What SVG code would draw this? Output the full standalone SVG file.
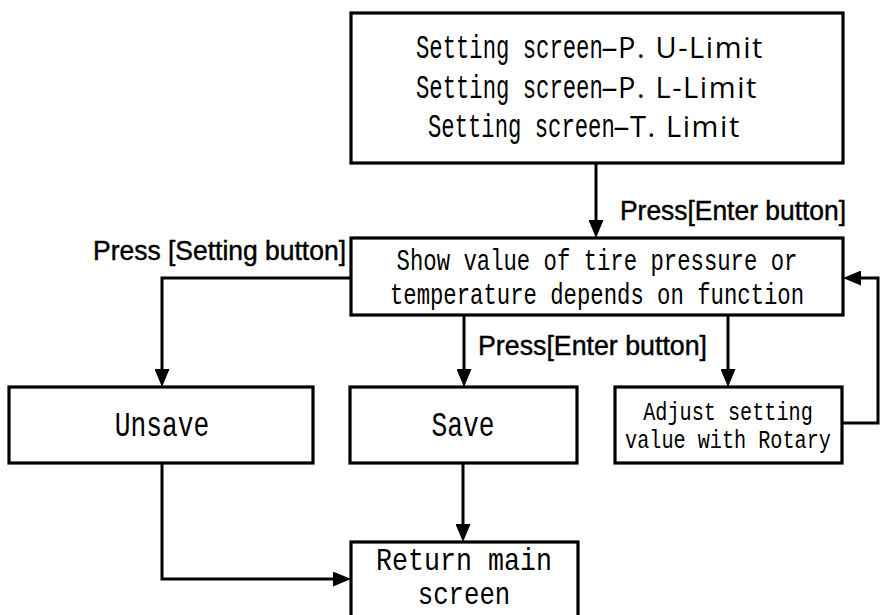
<svg xmlns="http://www.w3.org/2000/svg" width="880" height="615" viewBox="0 0 880 615">
<defs>
<style>
.box{fill:#fff;stroke:#000;stroke-width:3.2}
.ln{fill:none;stroke:#000;stroke-width:3;marker-end:url(#ah)}
.ln2{fill:none;stroke:#000;stroke-width:3}
.serif{font-family:"Liberation Mono","DejaVu Sans Mono",monospace;fill:#000}
.sans{font-family:"Open Sans","Liberation Sans",sans-serif;font-size:29px;letter-spacing:1.6px;fill:#000}
.lbl{font-family:"Liberation Sans",Arial,sans-serif;font-size:27px;fill:#000;stroke:#000;stroke-width:0.45}
</style>
<marker id="ah" viewBox="0 0 18 15" refX="12" refY="7.5" markerWidth="18" markerHeight="15" orient="auto" markerUnits="userSpaceOnUse">
<path d="M0,0 L18,7.5 L0,15 z" fill="#000"/>
</marker>
</defs>
<rect width="880" height="615" fill="#fff"/>

<g id="connectors">
<path class="ln" d="M596,163 V232"/>
<path class="ln2" d="M351,278 H162 V360"/>
<path class="ln" d="M162,360 V381"/>
<path class="ln" d="M464,315 V381"/>
<path class="ln" d="M728,315 V381"/>
<path class="ln2" d="M842,423 H878 V278 H870"/>
<path class="ln" d="M870,278 H849"/>
<path class="ln2" d="M162,463 V579 H320"/>
<path class="ln" d="M320,579 H345"/>
<path class="ln" d="M463,463 V536"/>
</g>

<g id="node-setting-screen">
<rect class="box" x="351" y="13" width="492" height="150"/>
<text class="serif" font-size="34" transform="translate(416,58) scale(0.654,1)">Setting screen—</text>
<text class="sans" x="618" y="58">P. U-Limit</text>
<text class="serif" font-size="34" transform="translate(416,98) scale(0.654,1)">Setting screen—</text>
<text class="sans" x="618" y="98">P. L-Limit</text>
<text class="serif" font-size="34" transform="translate(428,137) scale(0.654,1)">Setting screen—</text>
<text class="sans" x="630" y="137">T. Limit</text>
</g>

<g id="node-show-value">
<rect class="box" x="351" y="238" width="492" height="77"/>
<text class="serif" font-size="29" text-anchor="middle" transform="translate(597,270) scale(0.768,1)">Show value of tire pressure or</text>
<text class="serif" font-size="29" text-anchor="middle" transform="translate(597,304) scale(0.768,1)">temperature depends on function</text>
</g>

<g id="node-unsave">
<rect class="box" x="9" y="387" width="304" height="76"/>
<text class="serif" font-size="35" text-anchor="middle" transform="translate(162,436) scale(0.75,1)">Unsave</text>
</g>

<g id="node-save">
<rect class="box" x="350" y="387" width="227" height="76"/>
<text class="serif" font-size="35" text-anchor="middle" transform="translate(463,436) scale(0.75,1)">Save</text>
</g>

<g id="node-adjust">
<rect class="box" x="615" y="387" width="227" height="76"/>
<text class="serif" font-size="26" text-anchor="middle" transform="translate(728,420) scale(0.776,1)">Adjust setting</text>
<text class="serif" font-size="26" text-anchor="middle" transform="translate(728,448) scale(0.776,1)">value with Rotary</text>
</g>

<g id="node-return">
<rect class="box" x="351" y="542" width="227" height="100"/>
<text class="serif" font-size="31" text-anchor="middle" transform="translate(464,570) scale(0.86,1)">Return main</text>
<text class="serif" font-size="31" text-anchor="middle" transform="translate(464,604) scale(0.83,1)">screen</text>
</g>

<g id="labels">
<text class="lbl" x="620" y="220" textLength="226" lengthAdjust="spacingAndGlyphs">Press[Enter button]</text>
<text class="lbl" x="93" y="260" textLength="253" lengthAdjust="spacingAndGlyphs">Press [Setting button]</text>
<text class="lbl" x="478" y="355" textLength="229" lengthAdjust="spacingAndGlyphs">Press[Enter button]</text>
</g>
</svg>
